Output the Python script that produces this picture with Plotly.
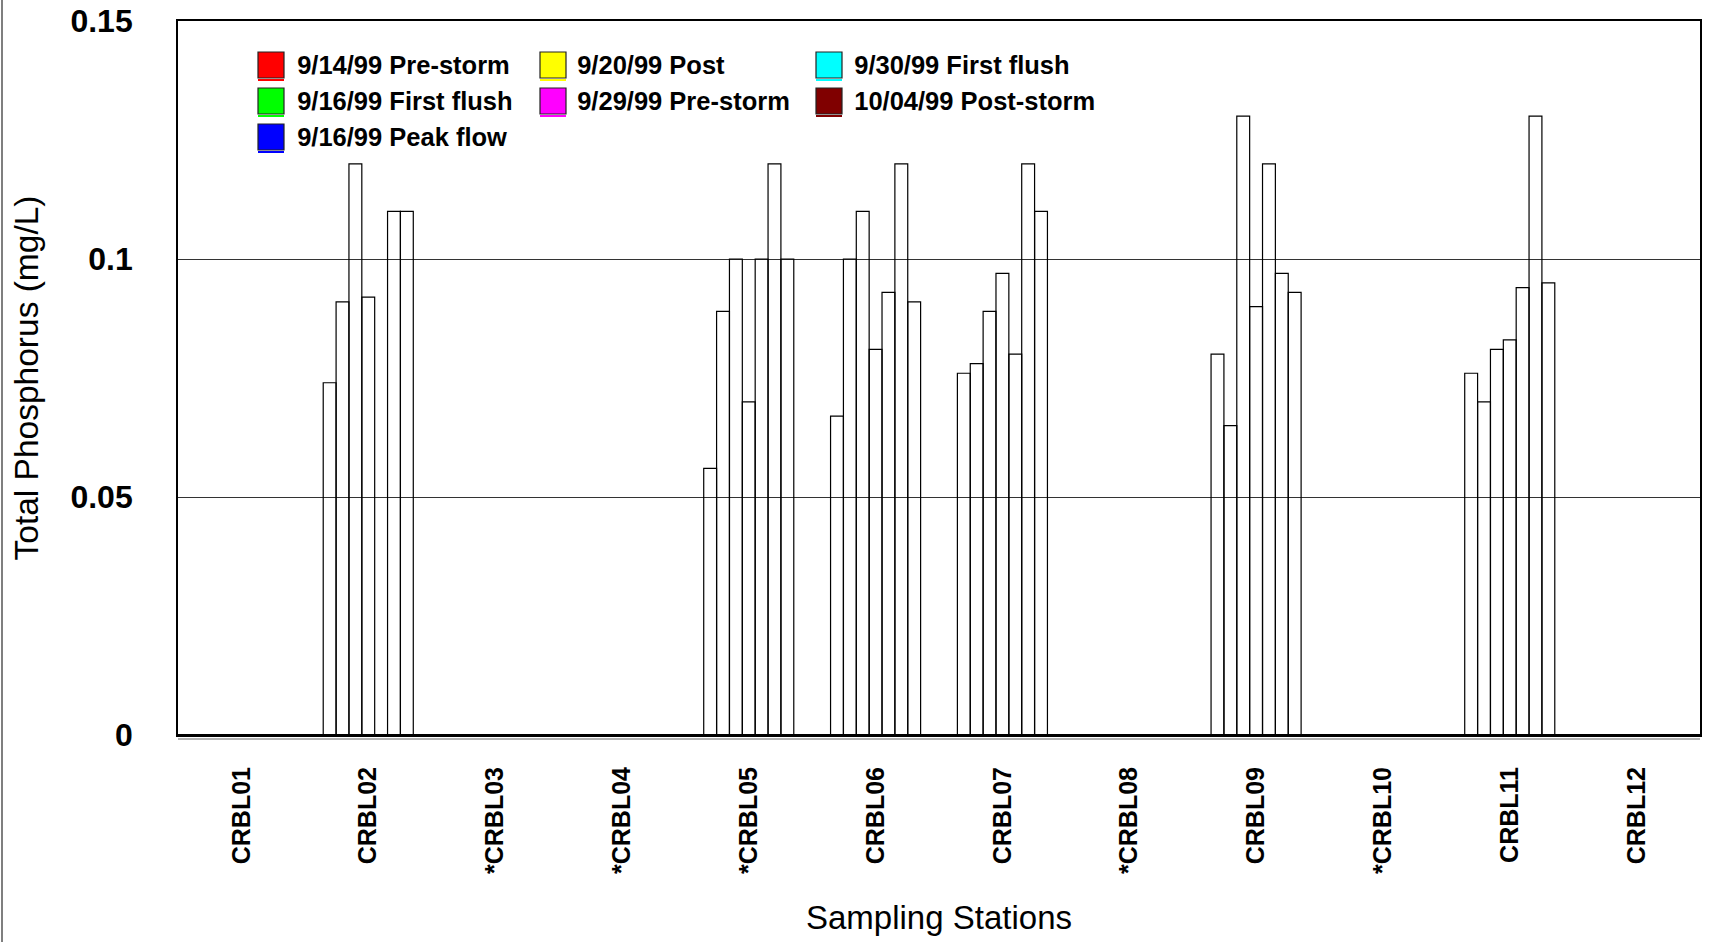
import plotly.graph_objects as go

stations = ["CRBL01", "CRBL02", "*CRBL03", "*CRBL04", "*CRBL05", "CRBL06",
            "CRBL07", "*CRBL08", "CRBL09", "*CRBL10", "CRBL11", "CRBL12"]

series_names = ["9/14/99 Pre-storm", "9/16/99 First flush", "9/16/99 Peak flow",
                "9/20/99 Post", "9/29/99 Pre-storm", "9/30/99 First flush",
                "10/04/99 Post-storm"]
series_colors = ["#ff0000", "#00ff00", "#0000ff", "#ffff00", "#ff00ff", "#00ffff", "#800000"]

N = None
pre_0914 = [N, 0.074, N, N, 0.056, 0.067, 0.076, N, 0.080, N, 0.076, N]
ff_0916 = [N, 0.091, N, N, 0.089, 0.100, 0.078, N, 0.065, N, 0.070, N]
peak_0916 = [N, 0.120, N, N, 0.100, 0.110, 0.089, N, 0.130, N, 0.081, N]
post_0920 = [N, 0.092, N, N, 0.070, 0.081, 0.097, N, 0.090, N, 0.083, N]
pre_0929 = [N, N, N, N, 0.100, 0.093, 0.080, N, 0.120, N, 0.094, N]
ff_0930 = [N, 0.110, N, N, 0.120, 0.120, 0.120, N, 0.097, N, 0.130, N]
post_1004 = [N, 0.110, N, N, 0.100, 0.091, 0.110, N, 0.093, N, 0.095, N]

series_values = [pre_0914, ff_0916, peak_0916, post_0920, pre_0929, ff_0930, post_1004]

y_ticks = [0, 0.05, 0.1, 0.15]
y_tick_text = ["0", "0.05", "0.1", "0.15"]

FONT = "Liberation Sans, Arial, sans-serif"

# figure geometry (px)
W, H = 1711, 942
ML, MR, MT, MB = 178, 11, 21, 207
PW, PH = W - ML - MR, H - MT - MB

fig = go.Figure()
for name, vals in zip(series_names, series_values):
    fig.add_trace(go.Bar(
        x=stations, y=vals, name=name, showlegend=False,
        marker=dict(color="rgba(0,0,0,0)", line=dict(color="black", width=1.2)),
    ))

# legend entries (three columns); swatches drawn as larger squares below
legend_of = ["legend", "legend", "legend", "legend2", "legend2", "legend3", "legend3"]
for name, col, lg in zip(series_names, series_colors, legend_of):
    fig.add_trace(go.Scatter(
        x=[None], y=[None], mode="markers", name=name, legend=lg,
        legendgroup=name,
        marker=dict(symbol="square", size=16, color="rgba(0,0,0,0)", line=dict(width=0)),
    ))

# legend swatch squares (26 px) in pixel positions -> paper coords
sw_cols_px = [258, 258, 258, 540, 540, 816, 816]
sw_rows_px = [65, 101, 137, 65, 101, 65, 101]
shapes = []
for col, cx, cy in zip(series_colors, sw_cols_px, sw_rows_px):
    shapes.append(dict(type="rect", xref="paper", yref="paper", layer="above",
                       x0=(cx - ML) / PW, x1=(cx + 26 - ML) / PW,
                       y0=(PH + MT - (cy + 13)) / PH, y1=(PH + MT - (cy - 13)) / PH,
                       fillcolor=col, line=dict(color="#222222", width=1.2)))
    shapes.append(dict(type="line", xref="paper", yref="paper", layer="above",
                       x0=(cx - ML) / PW, x1=(cx + 26 - ML) / PW,
                       y0=(PH + MT - (cy + 15)) / PH, y1=(PH + MT - (cy + 15)) / PH,
                       line=dict(color=col, width=2)))

# image frame line at left and shadow line under the baseline
shapes.append(dict(type="line", xref="paper", yref="paper",
                   x0=(2 - ML) / PW, x1=(2 - ML) / PW, y0=-MB / PH, y1=(PH + MT) / PH,
                   line=dict(color="#555555", width=1.5)))
shapes.append(dict(type="line", xref="paper", yref="paper",
                   x0=0, x1=1, y0=-4 / PH, y1=-4 / PH,
                   line=dict(color="#999999", width=1.5)))

leg_common = dict(bgcolor="rgba(0,0,0,0)", borderwidth=0,
                  font=dict(family=FONT, size=25.5, color="black", weight="bold"),
                  xanchor="left", yanchor="top", tracegroupgap=0)

fig.update_layout(
    width=W, height=H,
    margin=dict(l=ML, r=MR, t=MT, b=MB, autoexpand=False),
    paper_bgcolor="white", plot_bgcolor="white",
    barmode="group", bargap=0.29, bargroupgap=0,
    font=dict(family=FONT, color="black"),
    legend=dict(x=0.052, y=0.972, **leg_common),
    legend2=dict(x=0.236, y=0.972, **leg_common),
    legend3=dict(x=0.418, y=0.972, **leg_common),
    xaxis=dict(
        title=dict(text="Sampling Stations", font=dict(size=33, family=FONT), standoff=33),
        tickangle=-90, tickfont=dict(size=25, family=FONT, weight="bold"),
        showline=True, linecolor="black", linewidth=2, mirror=True,
        ticks="", ticklabelstandoff=20, showgrid=False, automargin=False,
    ),
    yaxis=dict(
        title=dict(text="Total Phosphorus (mg/L)", font=dict(size=33.5, family=FONT), standoff=22),
        range=[0, 0.15], tickvals=y_ticks, ticktext=y_tick_text,
        tickfont=dict(size=32, family=FONT, weight="bold"),
        showline=True, linecolor="black", linewidth=1.8, mirror=True,
        showgrid=True, gridcolor="#333333", gridwidth=1,
        zeroline=True, zerolinecolor="black", zerolinewidth=2.5,
        ticks="", ticklabelstandoff=37, automargin=False,
    ),
    shapes=shapes,
)

fig.write_html("out.html", config={"displayModeBar": False},
               post_script="document.body.style.margin='0';")
